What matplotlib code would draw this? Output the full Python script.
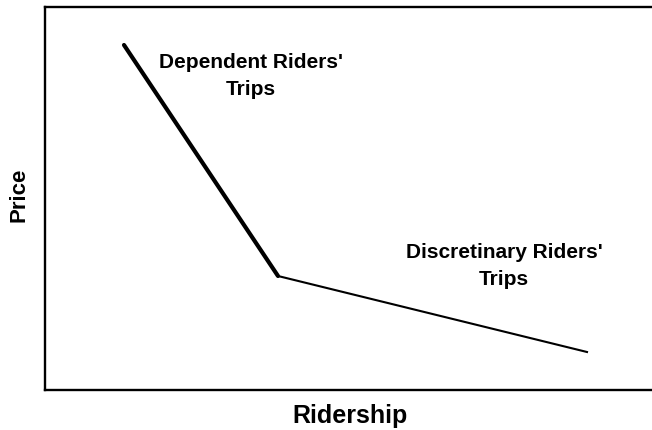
import matplotlib.pyplot as plt

plt.rcParams['font.family'] = ['Liberation Sans', 'DejaVu Sans']

# demand curve (ridership, price), arbitrary units
dep_x = [79, 233]
dep_y = [345, 114]
disc_x = [233, 542]
disc_y = [114, 38]

fig = plt.figure(figsize=(6.52, 4.30), dpi=100)
# axes box: left 45px, top 7px, bottom 390px, right runs off the image
ax = fig.add_axes([45 / 652, 40 / 430, 608 / 652, 383 / 430])

ax.plot(dep_x, dep_y, color="black", linewidth=3.0, solid_capstyle="round")
ax.plot(disc_x, disc_y, color="black", linewidth=1.5)

# va="baseline" on multi-line text anchors the last line's baseline
ax.text(206, 295, "Dependent Riders'\nTrips", ha="center", va="baseline",
        fontsize=15, fontweight="bold", linespacing=1.5)
ax.text(459, 105, "Discretinary Riders'\nTrips", ha="center", va="baseline",
        fontsize=15, fontweight="bold", linespacing=1.5)

ax.set_xlim(0, 608)
ax.set_ylim(0, 383)
ax.set_xticks([])
ax.set_yticks([])
ax.spines["right"].set_visible(False)
for s in ax.spines.values():
    s.set_linewidth(1.7)

# axis titles
fig.text(350 / 652, 1 - 423 / 430, "Ridership", ha="center", va="baseline",
         fontsize=18, fontweight="bold")
fig.text(25 / 652, 1 - 195 / 430, "Price", ha="center", va="baseline",
         rotation=90, rotation_mode="anchor", fontsize=16, fontweight="bold")

fig.savefig("out.png", dpi=100)
